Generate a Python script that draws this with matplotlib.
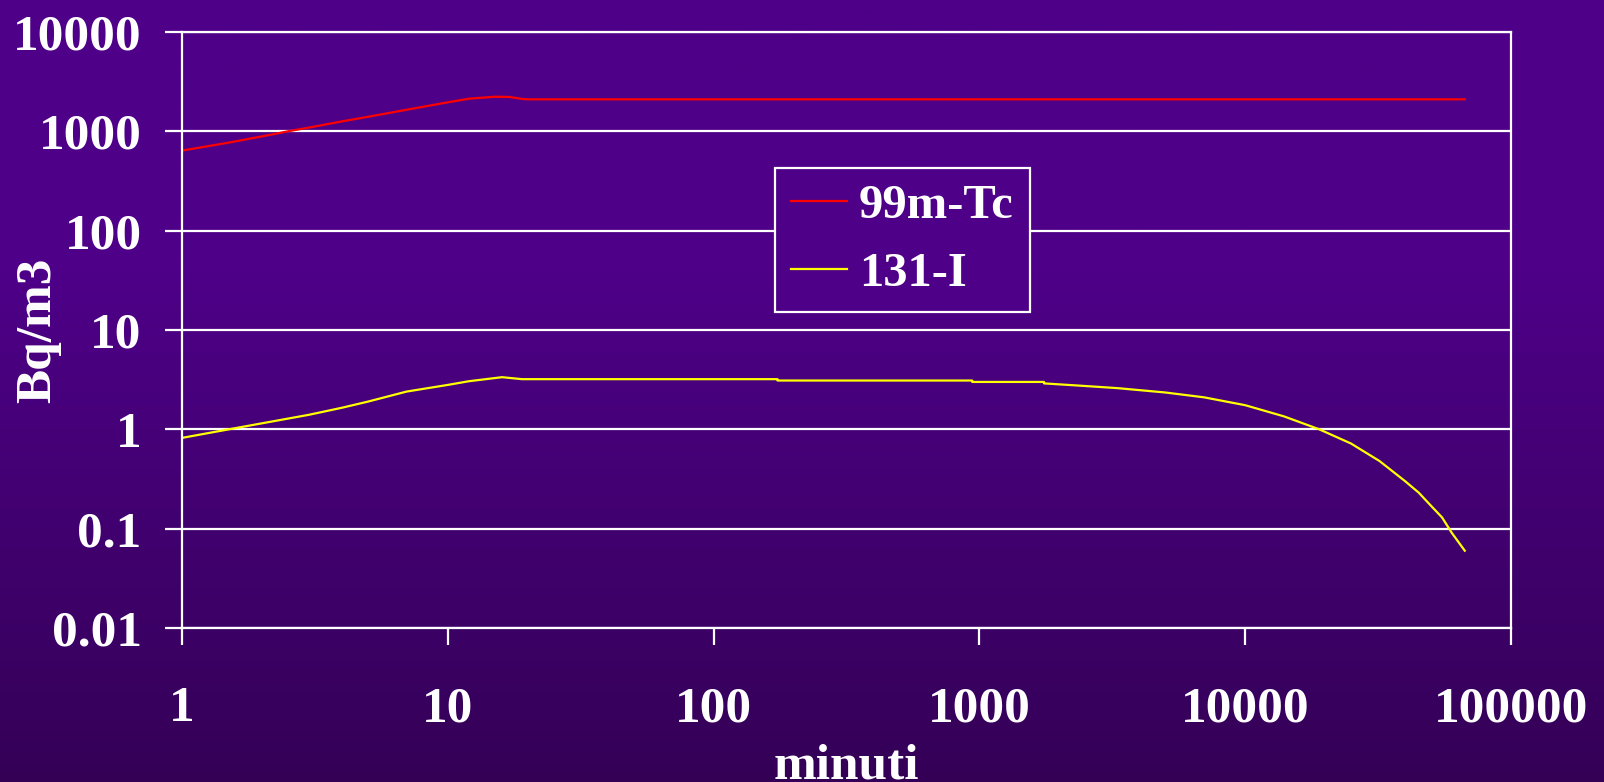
import matplotlib
matplotlib.use("Agg")
import matplotlib.pyplot as plt
import numpy as np

# data (minutes, Bq/m3)
tc_x = [1, 1.5, 2, 2.5, 3, 4, 5, 6, 8, 10, 12, 15, 17, 19, 20, 67000]
tc_y = [640, 770, 890, 1000, 1090, 1260, 1400, 1530, 1760, 1960, 2130, 2230, 2220, 2120, 2100, 2100]

i_x = [1, 1.5, 2, 3, 4, 5, 7, 10, 12, 16, 19, 174, 174, 940, 940, 1750, 1750,
       2400, 3300, 5000, 7000, 10000, 14000, 19000, 25000, 32000, 40000,
       45000, 50000, 55000, 60000, 67000]
i_y = [0.82, 1.0, 1.15, 1.4, 1.65, 1.9, 2.4, 2.8, 3.05, 3.35, 3.2, 3.2, 3.1, 3.1, 3.0, 3.0, 2.9,
       2.75, 2.6, 2.35, 2.1, 1.75, 1.35, 1.0, 0.72, 0.48, 0.3,
       0.23, 0.17, 0.13, 0.09, 0.06]

labels = ['99m-Tc', '131-I']
yticks = [0.01, 0.1, 1, 10, 100, 1000, 10000]
ytick_labels = ['0.01', '0.1', '1', '10', '100', '1000', '10000']
xticks = [1, 10, 100, 1000, 10000, 100000]
xtick_labels = ['1', '10', '100', '1000', '10000', '100000']

plt.rcParams['font.family'] = ['Liberation Serif', 'DejaVu Serif']
plt.rcParams['font.weight'] = 'bold'
fs = 37
top_col = np.array([78, 0, 136]) / 255
bot_col = np.array([52, 0, 86]) / 255

fig = plt.figure(figsize=(16.04, 7.82), dpi=100)

# gradient background
bg = fig.add_axes([0, 0, 1, 1], zorder=-10)
t = np.linspace(0, 1, 400)
w = np.clip((t - 0.35) / 0.65, 0, 1)
grad = top_col[None, :] * (1 - w[:, None]) + bot_col[None, :] * w[:, None]
bg.imshow(grad[:, None, :], aspect='auto', extent=[0, 1, 1, 0])
bg.axis('off')

ax = fig.add_axes([182/1604, 1 - 628/782, (1511-182)/1604, (628-32)/782])
ax.set_facecolor('none')
ax.set_xscale('log')
ax.set_yscale('log')
ax.set_xlim(1, 100000)
ax.set_ylim(0.01, 10000)

ax.plot(tc_x, tc_y, color='#FF0000', lw=1.6, label=labels[0])
ax.plot(i_x, i_y, color='#FFFF00', lw=1.6, label=labels[1])

ax.yaxis.grid(True, color='white', lw=1.6)
ax.set_axisbelow(True)
for s in ax.spines.values():
    s.set_color('white')
    s.set_linewidth(1.6)

ax.set_yticks(yticks)
ax.set_yticklabels(ytick_labels)
ax.set_xticks(xticks)
ax.set_xticklabels(xtick_labels)
ax.minorticks_off()
ax.tick_params(axis='y', colors='white', length=12, width=1.6, pad=17, labelsize=fs)
ax.tick_params(axis='x', colors='white', length=12, width=1.6, pad=30, labelsize=fs)

ax.set_xlabel('minuti', color='white', fontsize=fs, fontweight='bold', va='top')
ax.xaxis.set_label_coords(0.5, -0.193)
ax.set_ylabel('Bq/m3', color='white', fontsize=fs, fontweight='bold')
ax.yaxis.set_label_coords(-0.091, 0.5)

leg = ax.legend(loc='upper left', bbox_to_anchor=((775-182)/1329, (628-168)/596),
                borderaxespad=0, fontsize=35, frameon=True, fancybox=False,
                facecolor=tuple(top_col), edgecolor='white', framealpha=1,
                handlelength=1.15, handletextpad=0.25, borderpad=0.33,
                labelspacing=0.5)
leg.get_frame().set_linewidth(1.6)
for txt in leg.get_texts():
    txt.set_color('white')

fig.savefig('out.png', dpi=100)
